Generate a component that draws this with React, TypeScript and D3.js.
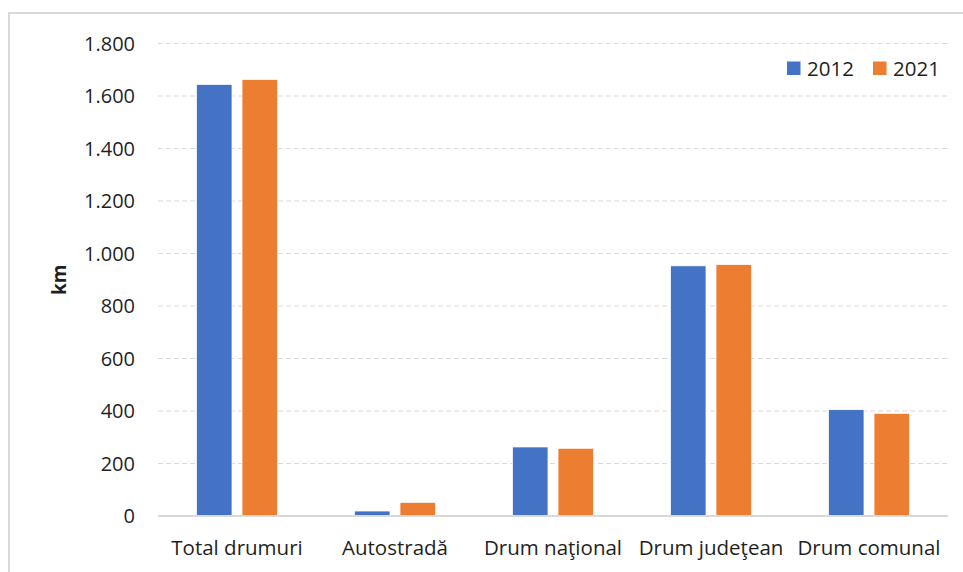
import React from "react";
import * as d3 from "d3";

const categories = ["Total drumuri", "Autostradă", "Drum naţional", "Drum judeţean", "Drum comunal"];
const seriesNames = ["2012", "2021"];
const values2012 = [1644, 19, 263, 953, 405];
const values2021 = [1663, 52, 258, 958, 391];
const yTicks = [0, 200, 400, 600, 800, 1000, 1200, 1400, 1600, 1800];
const colors = ["#4472C4", "#ED7D31"];

const W = 963;
const H = 572;
const plotLeft = 158;
const plotRight = 948;
const plotTop = 43.5;
const plotBottom = 516;
const FONT = "'Open Sans', sans-serif";

const fmt = (v: number) => {
  const s = d3.format(",")(v);
  return s.replace(/,/g, ".");
};

export default function App() {
  const x0 = d3.scaleBand<string>().domain(categories).range([plotLeft, plotRight]).padding(0);
  const groupW = 81;
  const off = (x0.bandwidth() - groupW) / 2;
  const x1 = d3.scaleBand<string>().domain(seriesNames).range([off, off + groupW]).paddingInner(0.22);
  const y = d3.scaleLinear().domain([0, 1800]).range([plotBottom, plotTop]);
  const series = [values2012, values2021];

  return (
    <svg width={W} height={H} style={{ position: "absolute", left: 0, top: 0, background: "#fff" }}>
      <rect x={0} y={0} width={W} height={H} fill="#fff" />
      <rect x={9} y={13} width={1100} height={700} fill="#fff" stroke="#d9d9d9" strokeWidth={2} />
      {yTicks.filter((t) => t > 0).map((t) => (
        <line key={t} x1={plotLeft} x2={plotRight} y1={y(t)} y2={y(t)} stroke="#d9d9d9" strokeWidth={1} strokeDasharray="5,3" />
      ))}
      {yTicks.map((t) => (
        <text key={"l" + t} x={135} y={y(t)} dy="0.36em" textAnchor="end" fontFamily={FONT} fontSize={20} fill="#1f1f1f">
          {fmt(t)}
        </text>
      ))}
      {categories.map((c, i) => (
        <g key={c}>
          {seriesNames.map((s, j) => (
            <rect
              key={s}
              x={(x0(c) as number) + (x1(s) as number)}
              y={y(series[j][i])}
              width={x1.bandwidth()}
              height={plotBottom - y(series[j][i])}
              fill={colors[j]}
              stroke="#fff"
              strokeWidth={0.75}
            />
          ))}
          <text x={(x0(c) as number) + x0.bandwidth() / 2} y={555} textAnchor="middle" fontFamily={FONT} fontSize={20.5} fill="#1f1f1f">
            {c}
          </text>
        </g>
      ))}
      <line x1={plotLeft} x2={plotRight} y1={plotBottom} y2={plotBottom} stroke="#d9d9d9" strokeWidth={2} />
      <text transform={`translate(66,${(plotTop + plotBottom) / 2}) rotate(-90)`} textAnchor="middle" fontFamily={FONT} fontSize={19} fontWeight="bold" fill="#1f1f1f">
        km
      </text>
      {seriesNames.map((s, j) => {
        const lx = j === 0 ? 787 : 873;
        return (
          <g key={"leg" + s}>
            <rect x={lx} y={61.5} width={13.5} height={13.5} fill={colors[j]} />
            <text x={lx + 20} y={75.5} fontFamily={FONT} fontSize={20.5} fill="#1f1f1f">
              {s}
            </text>
          </g>
        );
      })}
    </svg>
  );
}
